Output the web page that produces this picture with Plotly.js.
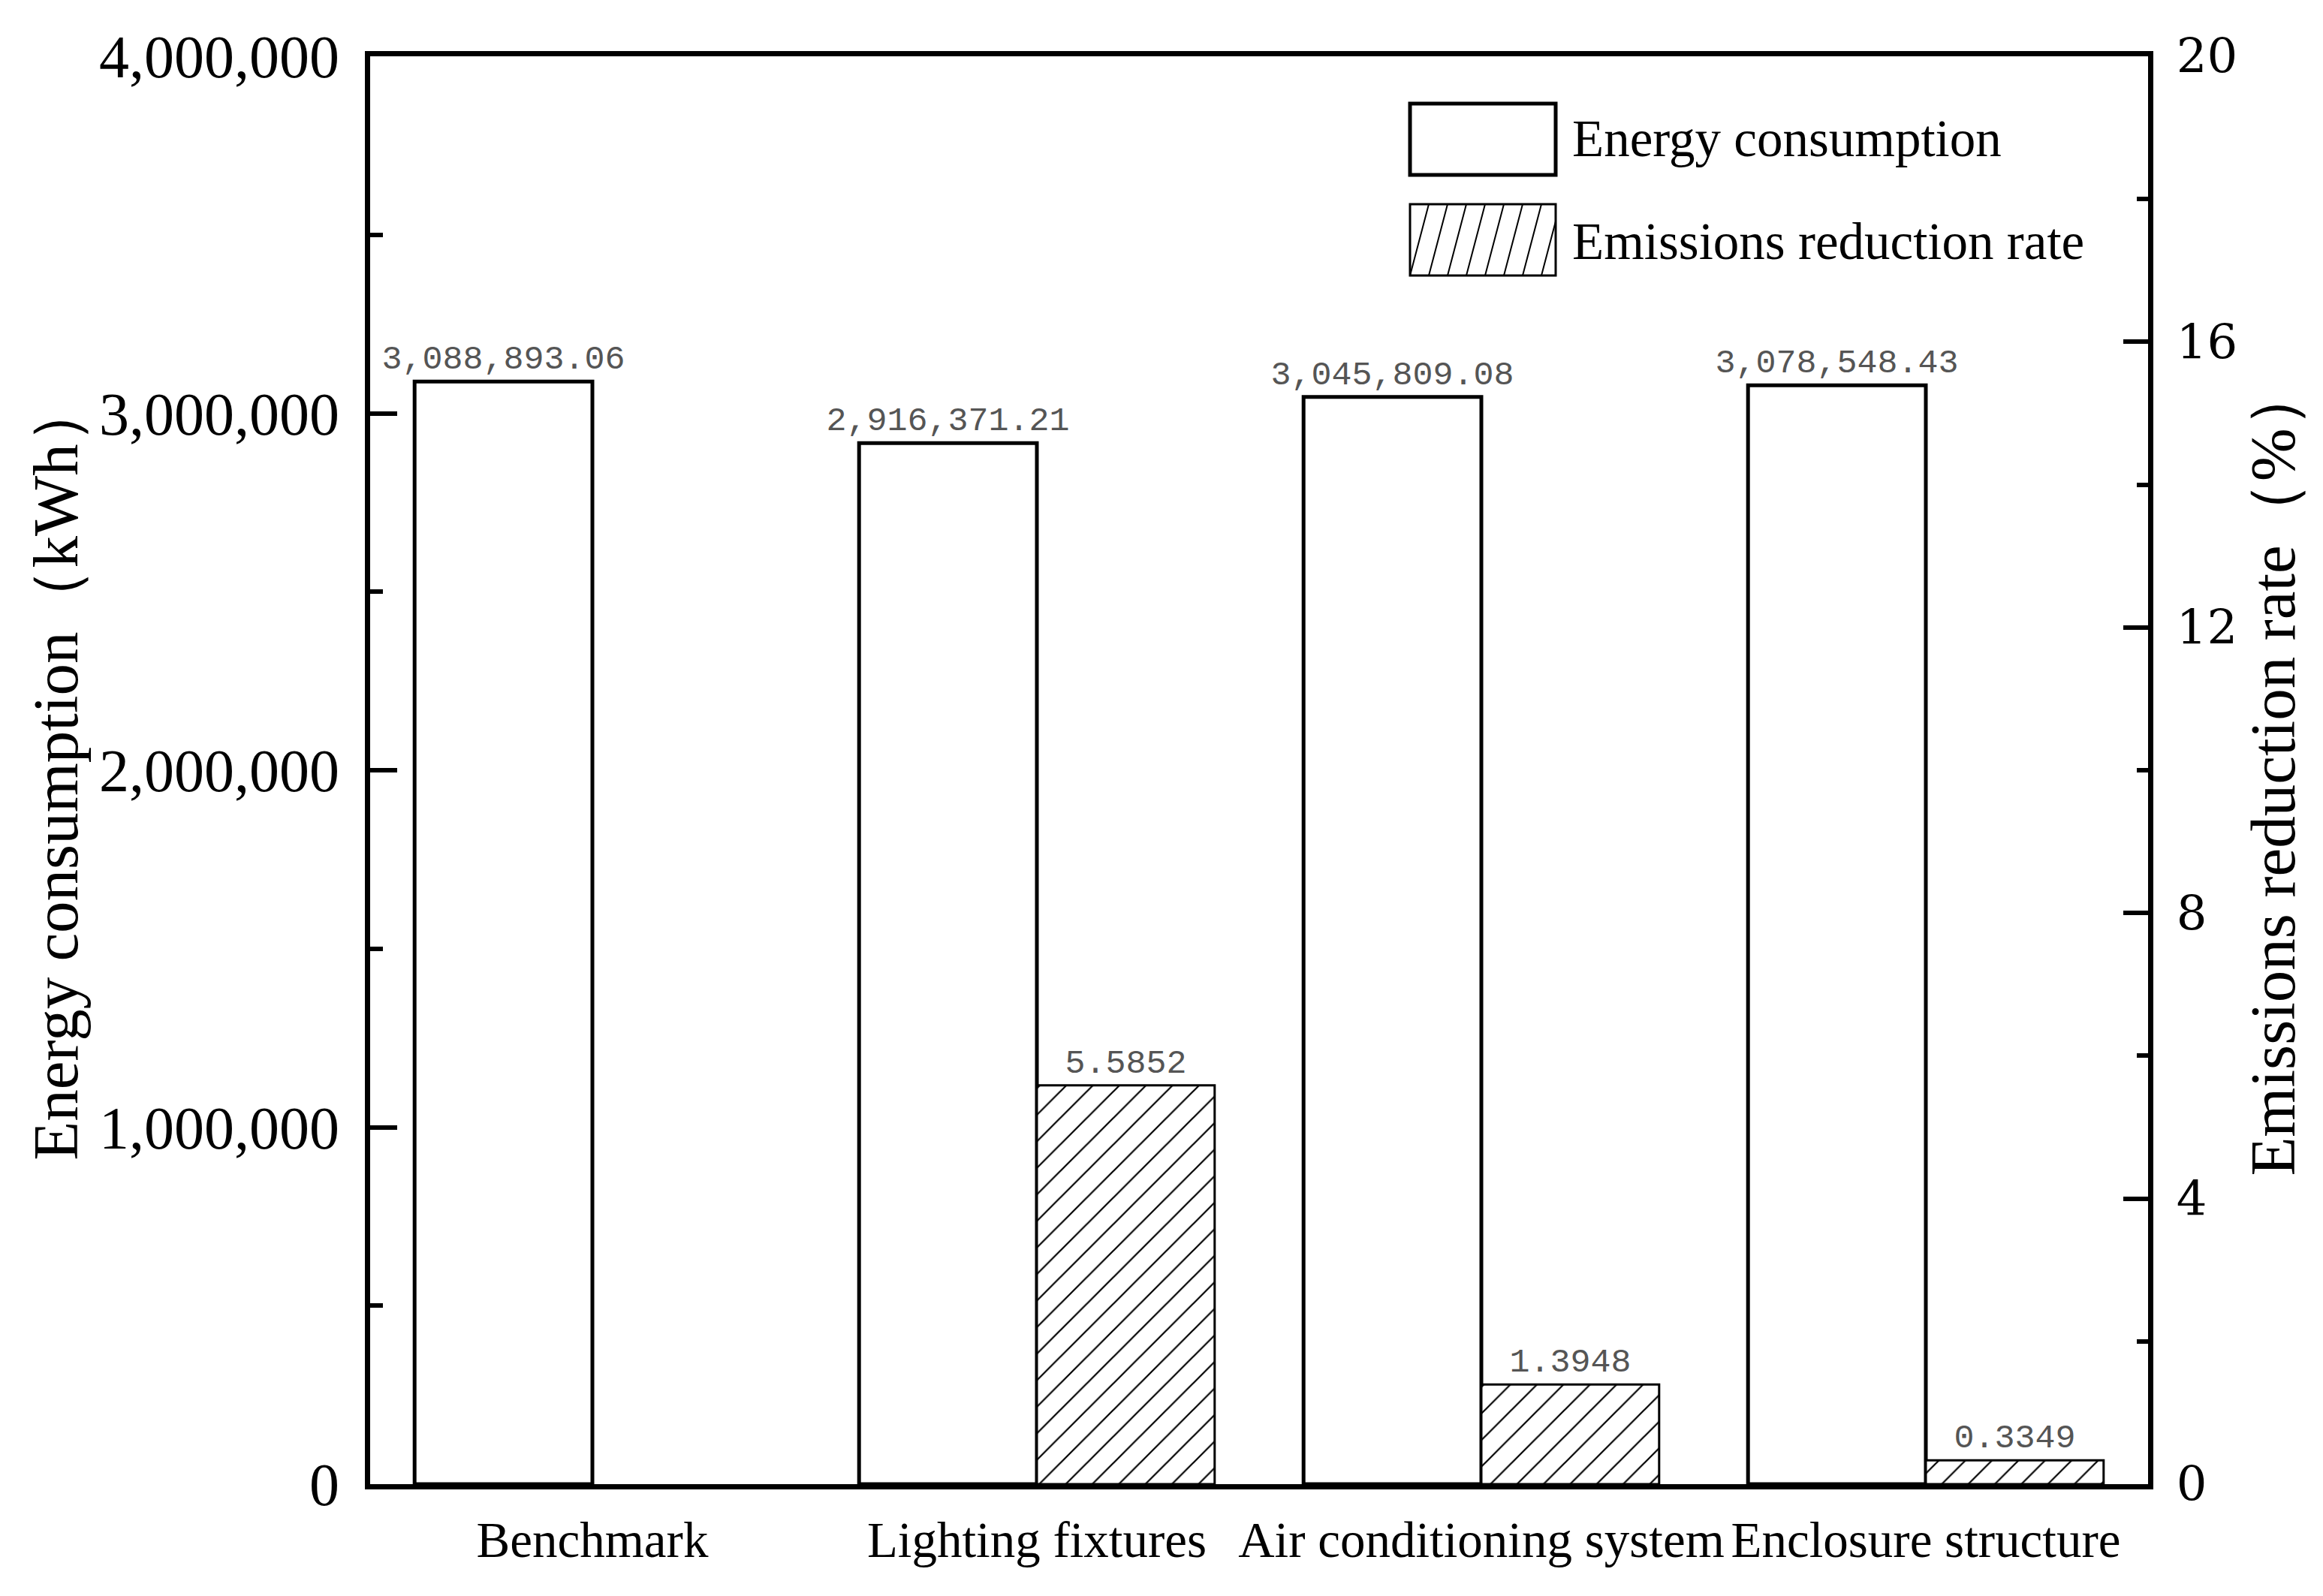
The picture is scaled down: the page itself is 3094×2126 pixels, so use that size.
<!DOCTYPE html>
<html>
<head>
<meta charset="utf-8">
<script src="https://cdn.plot.ly/plotly-3.0.1.min.js"></script>
<style>html,body{margin:0;padding:0;background:#fff;}#chart{width:3094px;height:2126px;}</style>
</head>
<body>
<div id="chart"></div>
<script>
const categories = ['Benchmark', 'Lighting fixtures', 'Air conditioning system', 'Enclosure structure'];
const energyConsumption = [3088893.06, 2916371.21, 3045809.08, 3078548.43];
const emissionsReduction = [null, 5.5852, 1.3948, 0.3349];
const legendLabels = ['Energy consumption', 'Emissions reduction rate'];
const leftTitle = 'Energy consumption（kWh）';
const rightTitle = 'Emissions reduction rate（%）';

const W = 3094, H = 2126;
const M = {l: 493, r: 233, t: 75, b: 149};
const PW = W - M.l - M.r, PH = H - M.t - M.b;
const px2x = p => (p - M.l) / PW;
const py2y = p => 1 - (p - M.t) / PH;

const serif = 'Liberation Serif, Times New Roman, serif';
const mono = 'Liberation Mono, DejaVu Sans Mono, monospace';

const traces = [
  {
    type: 'bar', name: legendLabels[0], x: categories, y: energyConsumption, yaxis: 'y',
    width: 0.4, offset: -0.4,
    marker: {color: '#ffffff', line: {color: '#000', width: 5}},
    texttemplate: '%{y:,.2f}', textposition: 'outside', constraintext: 'none', cliponaxis: false,
    textfont: {family: mono, size: 45, color: '#555'},
    showlegend: false, hoverinfo: 'x+y'
  },
  {
    type: 'bar', name: legendLabels[1], x: categories, y: emissionsReduction, yaxis: 'y2',
    width: 0.4, offset: 0,
    marker: {color: '#ffffff', line: {color: '#000', width: 3},
      pattern: {shape: '/', fgcolor: '#000', bgcolor: '#fff', size: 25, solidity: 0.09, fillmode: 'replace'}},
    texttemplate: '%{y:.4f}', textposition: 'outside', constraintext: 'none', cliponaxis: false,
    textfont: {family: mono, size: 45, color: '#555'},
    showlegend: false, hoverinfo: 'x+y'
  }
];

// legend drawn as shapes + annotations
const shapes = [];
const b1 = {x0: 1878, x1: 2072, y0: 138, y1: 233};
const b2 = {x0: 1878, x1: 2072, y0: 272, y1: 367};
shapes.push({type: 'rect', xref: 'paper', yref: 'paper', x0: px2x(b1.x0), x1: px2x(b1.x1), y0: py2y(b1.y1), y1: py2y(b1.y0),
  line: {color: '#000', width: 5}, fillcolor: '#fff'});
shapes.push({type: 'rect', xref: 'paper', yref: 'paper', x0: px2x(b2.x0), x1: px2x(b2.x1), y0: py2y(b2.y1), y1: py2y(b2.y0),
  line: {color: '#000', width: 3}, fillcolor: '#fff'});
let hatch = '';
const step = 25, shift = 25, hh = b2.y1 - b2.y0;
for (let xb = b2.x0 - shift; xb < b2.x1; xb += step) {
  const t0 = Math.max(0, (b2.x0 - xb) / shift), t1 = Math.min(1, (b2.x1 - xb) / shift);
  if (t1 <= t0) continue;
  const xa = xb + shift * t0, ya = b2.y1 - hh * t0, xc = xb + shift * t1, yc = b2.y1 - hh * t1;
  hatch += `M${px2x(xa)},${py2y(ya)}L${px2x(xc)},${py2y(yc)}`;
}
shapes.push({type: 'path', xref: 'paper', yref: 'paper', path: hatch, line: {color: '#000', width: 2}});

const annotations = [
  {xref: 'paper', yref: 'paper', x: px2x(2092), y: py2y(185), xanchor: 'left', yanchor: 'middle', showarrow: false,
   text: legendLabels[0], font: {family: serif, size: 69, color: '#000'}},
  {xref: 'paper', yref: 'paper', x: px2x(2092), y: py2y(322), xanchor: 'left', yanchor: 'middle', showarrow: false,
   text: legendLabels[1], font: {family: serif, size: 69, color: '#000'}}
];

const layout = {
  width: W, height: H,
  margin: M,
  paper_bgcolor: '#fff', plot_bgcolor: '#fff',
  barmode: 'overlay',
  showlegend: false,
  xaxis: {
    type: 'category', range: [-0.5, 3.5], showgrid: false, zeroline: false,
    showline: true, linecolor: '#000', linewidth: 7, mirror: true, ticks: '',
    tickangle: 0, automargin: false,
    tickfont: {family: serif, size: 67, color: '#000'}, ticklabelstandoff: 10
  },
  yaxis: {
    range: [0, 4000000], dtick: 1000000, tick0: 0, tickformat: ',d', showgrid: false, zeroline: false,
    showline: true, linecolor: '#000', linewidth: 7, ticks: 'inside', ticklen: 36, tickwidth: 6, tickcolor: '#000',
    minor: {dtick: 500000, ticks: 'inside', ticklen: 17, tickwidth: 6, tickcolor: '#000', showgrid: false},
    tickfont: {family: serif, size: 80, color: '#000'}, ticklabelstandoff: 18,
    title: {text: leftTitle, font: {family: serif, size: 85, color: '#000'}, standoff: 3}
  },
  yaxis2: {
    overlaying: 'y', side: 'right', range: [0, 20], dtick: 4, tick0: 0, showgrid: false, zeroline: false,
    showline: true, linecolor: '#000', linewidth: 7, ticks: 'inside', ticklen: 33, tickwidth: 6, tickcolor: '#000',
    minor: {dtick: 2, ticks: 'inside', ticklen: 15, tickwidth: 6, tickcolor: '#000', showgrid: false},
    tickfont: {family: 'DejaVu Serif, serif', size: 64, color: '#000'}, ticklabelstandoff: 18,
    title: {text: rightTitle, font: {family: serif, size: 85, color: '#000'}, standoff: 10}
  },
  shapes: shapes,
  annotations: annotations
};

Plotly.newPlot('chart', traces, layout, {staticPlot: true, displayModeBar: false});
</script>
</body>
</html>
